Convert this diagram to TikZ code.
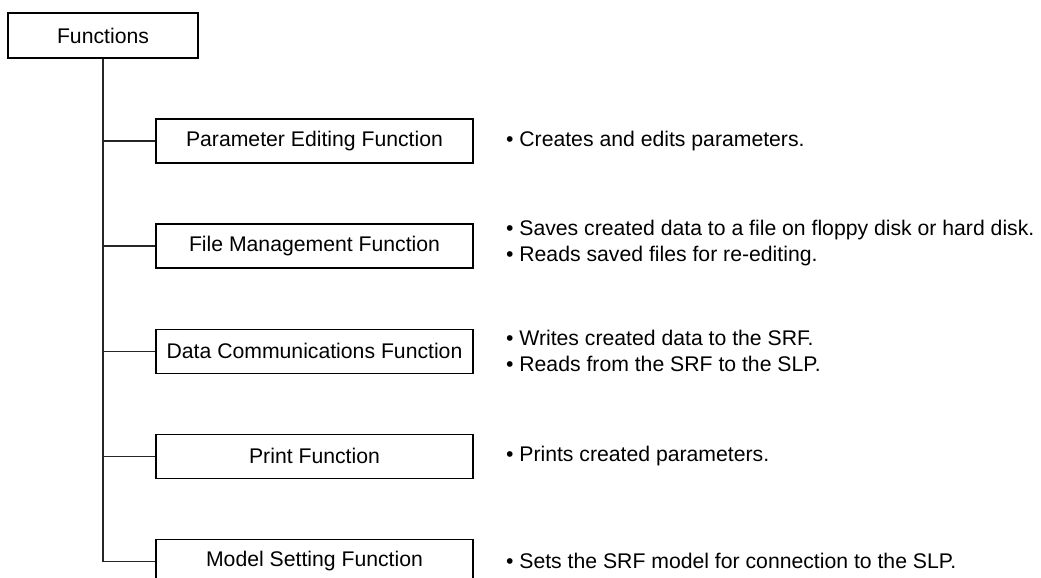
\documentclass[tikz,border=0pt]{standalone}
\usepackage{fontspec}
\setmainfont{Liberation Sans}
\usetikzlibrary{positioning}

\begin{document}
\begin{tikzpicture}[
  node distance=29.85pt and 16pt,
  box/.style={draw, line width=0.7pt, align=center, inner sep=2pt,
              font=\fontsize{10.6}{13}\selectfont},
  topbox/.style={box, minimum width=95pt, minimum height=22.5pt},
  funcbox/.style={box, minimum width=158.5pt, minimum height=22pt},
  desc/.style={align=left, inner sep=0pt, anchor=west,
               font=\fontsize{10.6}{13}\selectfont},
  conn/.style={line width=0.7pt, black!85}
]
  \clip (0,0) rectangle (520.5pt,-289pt);

  % Root
  \node[topbox] (fn) at (51.5pt,-17.75pt) {Functions};

  % Function boxes
  \node[funcbox] (pe) at (157.25pt,-70.5pt) {Parameter Editing Function};
  \node[funcbox, below=of pe] (fm) {File Management Function};
  \node[funcbox, below=of fm] (dc) {Data Communications Function};
  \node[funcbox, below=of dc] (pr) {Print Function};
  \node[funcbox, below=of pr] (ms) {Model Setting Function};

  % Descriptions
  \node[desc, right=of pe] (peText) {• Creates and edits parameters.};
  \node[desc, right=of fm, yshift=1.5pt] (fmText) {• Saves created data to a file on floppy disk or hard disk.\\
                                     • Reads saved files for re-editing.};
  \node[desc, right=of dc] (dcText) {• Writes created data to the SRF.\\
                                     • Reads from the SRF to the SLP.};
  \node[desc, right=of pr] (prText) {• Prints created parameters.};
  \node[desc, right=of ms] (msText) {• Sets the SRF model for connection to the SLP.};

  % Tree lines
  \draw[conn] (fn.south) |- (pe.west);
  \draw[conn] (fn.south) |- (fm.west);
  \draw[conn] (fn.south) |- (dc.west);
  \draw[conn] (fn.south) |- (pr.west);
  \draw[conn] (fn.south) |- (ms.west);
\end{tikzpicture}
\end{document}
